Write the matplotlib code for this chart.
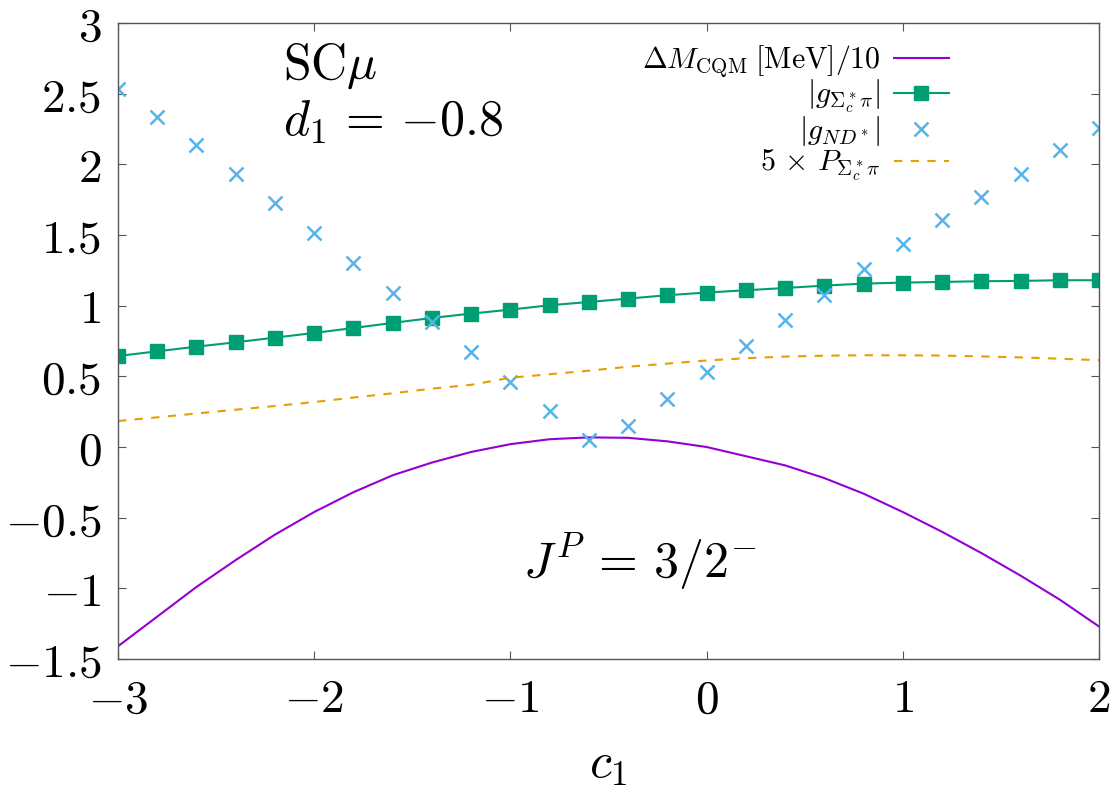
import matplotlib
matplotlib.use("Agg")
import matplotlib.pyplot as plt

plt.rcParams['mathtext.fontset'] = 'cm'
plt.rcParams['font.family'] = 'serif'

# c1 grid
c1 = [-3.0, -2.8, -2.6, -2.4, -2.2, -2.0, -1.8, -1.6, -1.4, -1.2, -1.0, -0.8, -0.6,
      -0.4, -0.2, 0.0, 0.2, 0.4, 0.6, 0.8, 1.0, 1.2, 1.4, 1.6, 1.8, 2.0]

# Delta M_CQM [MeV] / 10
dm_cqm = [-1.41, -1.20, -0.99, -0.80, -0.62, -0.46, -0.32, -0.20, -0.11, -0.035, 0.02,
          0.055, 0.068, 0.065, 0.04, 0.0, -0.065, -0.13, -0.22, -0.33, -0.46, -0.60,
          -0.75, -0.91, -1.08, -1.27]

# |g_{Sigma_c^* pi}|
g_sigma = [0.644, 0.677, 0.71, 0.741, 0.774, 0.807, 0.842, 0.878, 0.913, 0.944, 0.972,
           1.003, 1.026, 1.050, 1.074, 1.093, 1.109, 1.125, 1.142, 1.156, 1.163, 1.168,
           1.173, 1.175, 1.18, 1.18]

# |g_{N D^*}|
g_nd = [2.536, 2.335, 2.135, 1.935, 1.727, 1.517, 1.305, 1.09, 0.882, 0.672, 0.46,
        0.255, 0.052, 0.146, 0.338, 0.531, 0.715, 0.90, 1.078, 1.257, 1.434, 1.604,
        1.769, 1.935, 2.10, 2.26]

# 5 x P_{Sigma_c^* pi}
p_sigma = [0.184, 0.21, 0.237, 0.264, 0.29, 0.318, 0.35, 0.38, 0.413, 0.44, 0.49,
           0.515, 0.54, 0.568, 0.59, 0.612, 0.628, 0.64, 0.646, 0.649, 0.649, 0.647,
           0.641, 0.634, 0.625, 0.614]

xticks = [-3, -2, -1, 0, 1, 2]
xticklabels = ['$-3$', '$-2$', '$-1$', '$0$', '$1$', '$2$']
yticks = [-1.5, -1, -0.5, 0, 0.5, 1, 1.5, 2, 2.5, 3]
yticklabels = ['$-1.5$', '$-1$', '$-0.5$', '$0$', '$0.5$', '$1$', '$1.5$', '$2$', '$2.5$', '$3$']

fig = plt.figure(figsize=(11.13, 7.92), dpi=100)
ax = fig.add_axes([118 / 1113, (792 - 659) / 792, 981 / 1113, 636 / 792])

ax.plot(c1, dm_cqm, color='#9400d3', lw=1.5,
        label=r'$\Delta M_{\mathrm{CQM}}\;[\mathrm{MeV}]/10$')
ax.plot(c1, g_sigma, color='#009e73', lw=1.5, marker='s', ms=9.5,
        label=r'$|g_{\Sigma_c^*\pi}|$')
ax.plot(c1, g_nd, color='#56b4e9', ls='none', marker='x', ms=10, mew=1.8,
        label=r'$|g_{ND^*}|$')
ax.plot(c1, p_sigma, color='#e69f00', lw=1.5, ls=(0, (4, 4)),
        label=r'$5\,\times\,P_{\Sigma_c^*\pi}$')

ax.set_xlim(-3, 2)
ax.set_ylim(-1.5, 3)
ax.set_xticks(xticks)
ax.set_xticklabels(xticklabels)
ax.set_yticks(yticks)
ax.set_yticklabels(yticklabels)
ax.tick_params(direction='in', length=6, width=0.8, color='#555555',
               top=True, right=True, labelsize=34)
ax.tick_params(axis='x', pad=13)
ax.tick_params(axis='y', pad=12)
for s in ax.spines.values():
    s.set_color('#555555')
    s.set_linewidth(1.0)

ax.set_xlabel('$c_1$', fontsize=36, labelpad=12)

ax.text(-2.159, 2.609, r'$\mathrm{SC}\mu$', fontsize=36, va='baseline')
ax.text(-2.159, 2.206, r'$d_1\,=\,{-0.8}$', fontsize=36, va='baseline')
ax.text(-0.936, -0.922, r'$J^{P}\,=\,3/2^{-}$', fontsize=36, va='baseline')

ax.legend(loc='upper right', bbox_to_anchor=(0.847, 0.968), markerfirst=False,
          frameon=False, fontsize=21.5, numpoints=1, handlelength=1.85,
          handletextpad=0.45, labelspacing=-0.04, borderpad=0, borderaxespad=0)

fig.savefig('out.png', dpi=100)
